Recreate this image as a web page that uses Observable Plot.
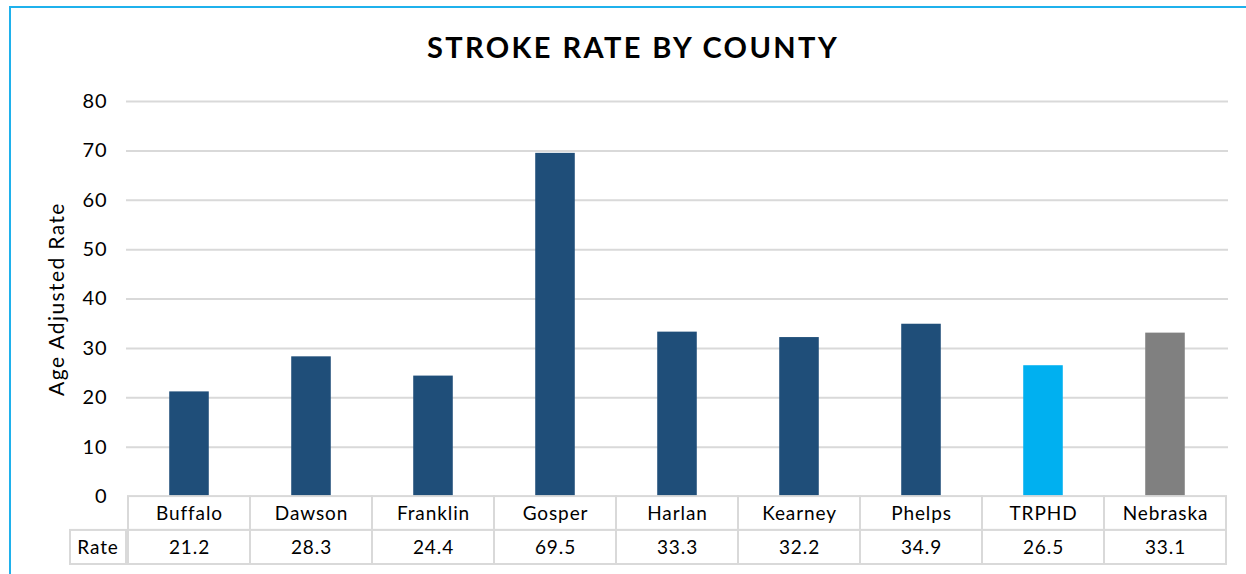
<!DOCTYPE html>
<html>
<head>
<meta charset="utf-8">
<script src="https://cdn.jsdelivr.net/npm/d3@7"></script>
<script src="https://cdn.jsdelivr.net/npm/@observablehq/plot@0.6"></script>
<style>
  html, body { margin: 0; padding: 0; background: #fff; }
  body { width: 1246px; height: 574px; position: relative; overflow: hidden; font-family: Lato, "Open Sans", sans-serif; }
  #frame { position: absolute; left: 9px; top: 6px; width: 1260px; height: 600px; border-left: 2px solid #1fb1ec; border-top: 2px solid #1fb1ec; box-sizing: border-box; }
  #title { position: absolute; left: 0; width: 1266px; top: 29px; text-align: center; font-weight: 700; font-size: 29px; color: #000; letter-spacing: 2.4px; }
  #chart { position: absolute; left: 0; top: 0; }
  #chart .lsp text, #chart text.lsp { letter-spacing: 0.9px; }
  #chart .ylab text { letter-spacing: 1.4px; }
</style>
</head>
<body>
<div id="frame"></div>
<div id="title">STROKE RATE BY COUNTY</div>
<div id="chart"></div>
<script>
// ---- data ----
const counties = ["Buffalo", "Dawson", "Franklin", "Gosper", "Harlan", "Kearney", "Phelps", "TRPHD", "Nebraska"];
const rates = [21.2, 28.3, 24.4, 69.5, 33.3, 32.2, 34.9, 26.5, 33.1];
const rateLabels = ["21.2", "28.3", "24.4", "69.5", "33.3", "32.2", "34.9", "26.5", "33.1"];
const yTicks = [0, 10, 20, 30, 40, 50, 60, 70, 80];
const rowLabel = "Rate";
const yLabel = "Age Adjusted Rate";

const data = counties.map((c, i) => ({county: c, rate: rates[i], label: rateLabels[i]}));

// ---- styles ----
const NAVY = "#1f4e79", CYAN = "#00b0f0", GRAY = "#808080", GRID = "#d9d9d9";
const fillFor = c => c === "TRPHD" ? CYAN : c === "Nebraska" ? GRAY : NAVY;

const W = 1246, H = 574;
const mL = 126, mR = W - 1228;
const step = (W - mL - mR) / counties.length;
const barW = 40;
const inset = (step - barW) / 2;
const ROW1 = -6.85, ROW2 = -13.75; // table row bounds in y units below zero
const FS = 19;

const rateCell = (index, scales, values, dims) => {
  const g = d3.create("svg:g");
  const y1 = scales.y(ROW1), y2 = scales.y(ROW2);
  g.append("rect").attr("x", 70).attr("y", y1).attr("width", mL - 70).attr("height", y2 - y1)
    .attr("fill", "white").attr("stroke", GRID).attr("stroke-width", 2);
  g.append("text").attr("x", (70 + mL) / 2).attr("y", (y1 + y2) / 2).attr("dy", "0.35em")
    .attr("text-anchor", "middle").attr("font-size", FS).attr("class", "lsp").attr("fill", "#000").text(rowLabel);
  return g.node();
};

const chart = Plot.plot({
  width: W,
  height: H,
  marginLeft: mL,
  marginRight: mR,
  marginTop: 101,
  marginBottom: H - 564,
  style: {fontFamily: "Lato, 'Open Sans', sans-serif", background: "transparent"},
  x: {domain: counties, type: "band", padding: 0, axis: null},
  y: {domain: [ROW2, 80], axis: null},
  marks: [
    Plot.gridY(yTicks.filter(t => t > 0), {stroke: GRID, strokeOpacity: 1, strokeWidth: 2}),
    Plot.barY(data, {x: "county", y: "rate", fill: d => fillFor(d.county), insetLeft: inset, insetRight: inset}),
    // table: header row and value row
    Plot.barY(data, {x: "county", y1: 0, y2: ROW1, fill: "white", stroke: GRID, strokeWidth: 2}),
    Plot.barY(data, {x: "county", y1: ROW1, y2: ROW2, fill: "white", stroke: GRID, strokeWidth: 2}),
    Plot.text(data, {x: "county", y: ROW1 / 2, text: "county", fontSize: FS, fill: "#000", className: "lsp"}),
    Plot.text(data, {x: "county", y: (ROW1 + ROW2) / 2, text: "label", fontSize: FS, fill: "#000", className: "lsp"}),
    rateCell,
    Plot.axisY(yTicks, {anchor: "left", tickSize: 0, tickPadding: 19, fontSize: 20, label: null, color: "#000", className: "lsp"}),
    Plot.text([yLabel], {frameAnchor: "left", y: 40, text: d => d, rotate: -90, dx: -69, textAnchor: "middle", fontSize: 21, fill: "#000", className: "ylab"})
  ]
});
document.getElementById("chart").appendChild(chart);
</script>
</body>
</html>
